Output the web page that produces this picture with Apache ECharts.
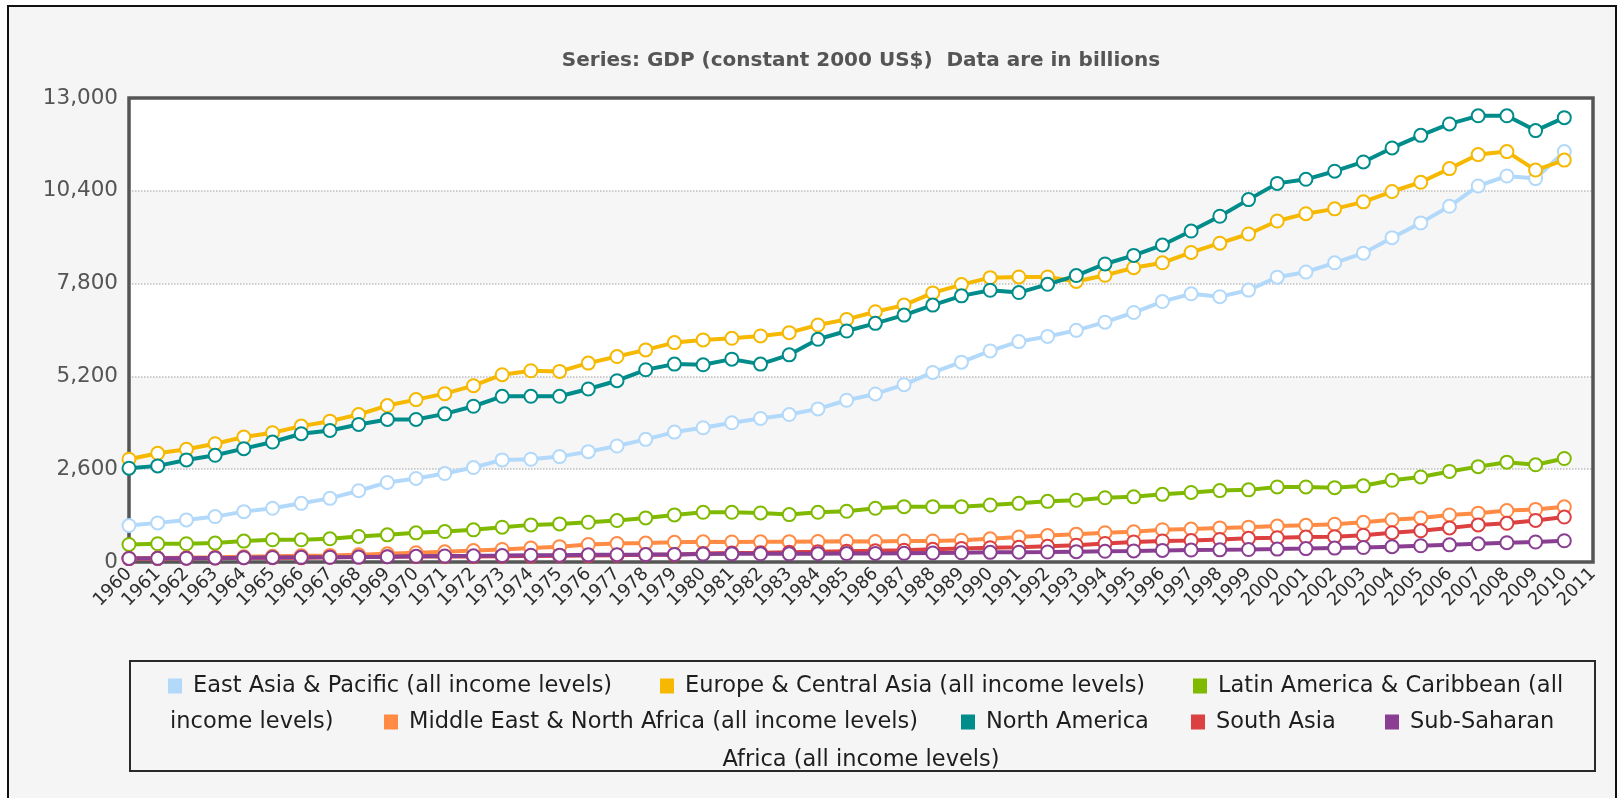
<!DOCTYPE html>
<html>
<head>
<meta charset="utf-8">
<script src="https://cdn.jsdelivr.net/npm/echarts@6/dist/echarts.min.js"></script>
<style>
  html, body { margin: 0; padding: 0; background: #ffffff; }
  #frame { position: absolute; left: 7px; top: 5px; width: 1606px; height: 820px;
           border-left: 2px solid #111; border-top: 2px solid #111; border-right: 2px solid #111;
           background: #f5f5f5; }
  #chart { position: absolute; left: 0; top: 0; width: 1623px; height: 798px; }
</style>
</head>
<body>
<div id="frame"></div>
<div id="chart"></div>
<script>
// ---- Data (values in billions, constant 2000 US$) ----
const categories = ['1960','1961','1962','1963','1964','1965','1966','1967','1968','1969',
  '1970','1971','1972','1973','1974','1975','1976','1977','1978','1979',
  '1980','1981','1982','1983','1984','1985','1986','1987','1988','1989',
  '1990','1991','1992','1993','1994','1995','1996','1997','1998','1999',
  '2000','2001','2002','2003','2004','2005','2006','2007','2008','2009','2010','2011'];

const seriesNames = [
  'East Asia & Pacific (all income levels)',
  'Europe & Central Asia (all income levels)',
  'Latin America & Caribbean (all income levels)',
  'Middle East & North Africa (all income levels)',
  'North America',
  'South Asia',
  'Sub-Saharan Africa (all income levels)'
];

const eastAsia = [1021,1096,1179,1272,1411,1504,1644,1783,1997,2229,
  2340,2479,2647,2860,2879,2953,3092,3250,3436,3640,
  3761,3900,4021,4132,4290,4532,4708,4968,5312,5599,
  5915,6175,6320,6490,6720,6990,7297,7514,7432,7618,
  7980,8125,8383,8652,9087,9501,9966,10535,10815,10742,11498];

const europe = [2879,3046,3157,3315,3501,3622,3807,3946,4132,4383,
  4550,4717,4940,5247,5358,5340,5572,5757,5943,6147,
  6222,6268,6333,6426,6640,6797,7011,7197,7540,7772,
  7967,7986,7986,7860,8032,8245,8383,8673,8932,9190,
  9553,9759,9894,10091,10380,10639,11022,11415,11498,10981,11260];

const latinAmerica = [492,511,511,529,585,622,622,650,715,761,
  817,854,901,975,1040,1068,1114,1161,1235,1319,
  1393,1393,1374,1328,1393,1421,1504,1551,1551,1551,
  1597,1644,1699,1730,1800,1825,1896,1948,2000,2021,
  2103,2103,2083,2134,2290,2383,2538,2672,2797,2724,2900];

const middleEast = [100,110,120,130,145,160,175,185,205,230,
  260,285,320,350,390,430,490,515,530,550,
  565,560,565,570,575,580,575,585,590,610,
  650,700,740,780,820,845,904,924,955,976,
  1007,1028,1059,1111,1183,1235,1318,1369,1442,1473,1545];

const northAmerica = [2628,2693,2860,2990,3176,3361,3594,3686,3854,3993,
  3993,4151,4364,4643,4643,4643,4847,5079,5386,5544,
  5525,5683,5544,5804,6240,6472,6686,6918,7197,7457,
  7614,7549,7780,8025,8350,8590,8880,9273,9687,10153,
  10608,10722,10949,11208,11601,11953,12273,12501,12501,12087,12449];

const southAsia = [95,100,104,110,118,120,122,132,137,146,
  154,156,156,162,166,176,180,192,202,200,
  235,250,260,275,285,300,315,330,355,380,
  400,410,440,470,520,560,590,600,630,665,
  680,700,710,750,820,875,955,1040,1085,1165,1260];

const subSaharan = [100,103,107,115,120,127,131,133,137,148,
  160,168,173,180,190,192,200,205,207,213,
  222,228,230,228,232,236,240,243,252,258,
  270,275,280,290,300,310,325,335,340,350,
  362,375,390,405,430,455,480,510,540,560,595];

const yTicks = [0, 2600, 5200, 7800, 10400, 13000];

const seriesData = [eastAsia, europe, latinAmerica, middleEast, northAmerica, southAsia, subSaharan];
const colors = ['#b3d9fa', '#f6b800', '#7fba00', '#ff8b45', '#008c8a', '#dc4040', '#893e91'];

const FONT = '"DejaVu Sans", Verdana, sans-serif';
const GRID = { left: 129, top: 98, width: 1464, height: 464 };

const chart = echarts.init(document.getElementById('chart'), null, { renderer: 'canvas' });

const series = seriesNames.map((name, i) => ({
  name: name,
  type: 'line',
  data: seriesData[i],
  symbol: 'emptyCircle',
  symbolSize: 13,
  showSymbol: true,
  lineStyle: { width: 4, color: colors[i] },
  itemStyle: { color: colors[i], borderWidth: 3 },
  emphasis: { disabled: true },
  z: 3,
  animation: false
}));

// legend layout: [name, iconLeft, rowCenterY, label]
const legendItems = [
  [seriesNames[0], 168, 686, null],
  [seriesNames[1], 660, 686, null],
  [seriesNames[2], 1193, 686, 'Latin America & Caribbean (all'],
  [seriesNames[3], 384, 722, null],
  [seriesNames[4], 961, 722, null],
  [seriesNames[5], 1191, 722, null],
  [seriesNames[6], 1385, 722, 'Sub-Saharan']
];

const LEGEND_FS = 22.5;

const legends = legendItems.map(([name, x, cy, label]) => ({
  data: [name],
  left: x,
  top: cy - 12,
  icon: 'rect',
  itemWidth: 14,
  itemHeight: 15,
  itemStyle: { borderWidth: 0 },
  padding: 0,
  formatter: label ? (() => label) : undefined,
  textStyle: { fontFamily: FONT, fontSize: LEGEND_FS, color: '#1e1e1e', lineHeight: 24, padding: [0, 0, 0, 6] }
}));

const option = {
  backgroundColor: 'transparent',
  color: colors,
  animation: false,
  grid: Object.assign({ show: true, backgroundColor: '#ffffff', borderWidth: 0 }, GRID),
  legend: legends,
  xAxis: {
    type: 'category',
    data: categories,
    boundaryGap: false,
    axisLine: { show: false },
    axisTick: { show: false },
    splitLine: { show: false },
    axisLabel: {
      interval: 0, rotate: 45, margin: 9,
      fontFamily: FONT, fontSize: 18, color: '#2e2e2e'
    }
  },
  yAxis: {
    type: 'value',
    min: yTicks[0],
    max: yTicks[yTicks.length - 1],
    interval: yTicks[1] - yTicks[0],
    axisLine: { show: false },
    axisTick: { show: false },
    axisLabel: {
      margin: 11, fontFamily: FONT, fontSize: 21.5, color: '#555555',
      formatter: v => v.toString().replace(/\B(?=(\d{3})+(?!\d))/g, ',')
    },
    splitLine: { show: true, lineStyle: { type: 'dotted', color: '#bdbdbd', width: 1.5 } },
    splitArea: { show: true, areaStyle: { color: ['#ffffff', '#f6f6f6'] } }
  },
  graphic: [
    {
      type: 'rect', z: 2,
      shape: { x: GRID.left, y: GRID.top, width: GRID.width, height: GRID.height },
      style: { fill: 'transparent', stroke: '#555555', lineWidth: 3.5 }
    },
    {
      type: 'text', x: 861, y: 61,
      style: {
        text: 'Series: GDP (constant 2000 US$)  Data are in billions',
        align: 'center', verticalAlign: 'middle',
        fontFamily: FONT, fontSize: 20, fontWeight: 'bold', fill: '#555555'
      }
    },
    {
      type: 'rect', shape: { x: 130, y: 661, width: 1465, height: 110 },
      style: { fill: 'transparent', stroke: '#2a2a2a', lineWidth: 2 }
    },
    {
      type: 'text', x: 170, y: 722,
      style: { text: 'income levels)', align: 'left', verticalAlign: 'middle',
               fontFamily: FONT, fontSize: LEGEND_FS, fill: '#1e1e1e' }
    },
    {
      type: 'text', x: 861, y: 760,
      style: { text: 'Africa (all income levels)', align: 'center', verticalAlign: 'middle',
               fontFamily: FONT, fontSize: LEGEND_FS, fill: '#1e1e1e' }
    }
  ],
  series: series
};

chart.setOption(option);
</script>
</body>
</html>
